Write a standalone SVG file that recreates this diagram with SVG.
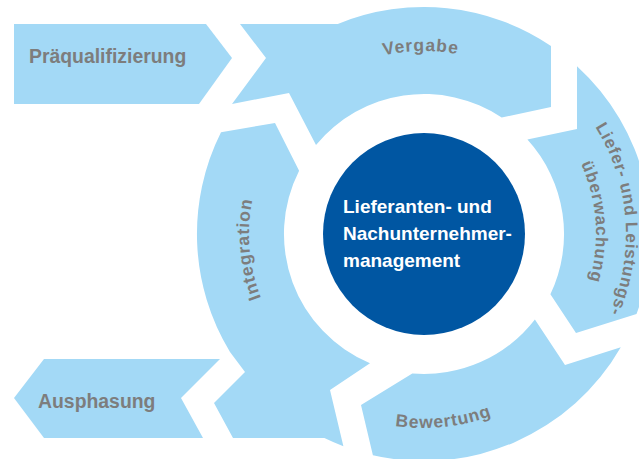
<svg xmlns="http://www.w3.org/2000/svg" width="639" height="459" viewBox="0 0 639 459">
<style>
.seg{fill:#A3D9F6;}
.lbl{font-family:"Liberation Sans",Arial,sans-serif;font-weight:bold;fill:#7D7D7D;}
.box{font-size:19.4px;}
.ring{font-size:17.5px;letter-spacing:0.9px;}
.ctr{font-family:"Liberation Sans",Arial,sans-serif;font-weight:bold;font-size:19px;fill:#FFFFFF;}
</style>
<defs>
<path id="pV" d="M263.95,145.28 A183,183 0 0 1 580.86,139.75"/>
<path id="pI" d="M350.04,392.60 A175,175 0 0 1 323.62,90.64"/>
<path id="pB" d="M267.05,348.03 A194,194 0 0 0 601.22,312.91"/>
<path id="pL1" d="M510.96,51.67 A202,202 0 0 1 538.41,400.47"/>
<path id="pL2" d="M499.13,79.27 A172,172 0 0 1 520.42,376.43"/>
</defs>
<rect width="639" height="459" fill="#FFFFFF"/>
<g id="praequalifizierung">
<polygon class="seg" points="14,24 206,24 232,58 199,104 14,104"/>
<text class="lbl box" x="29" y="63">Präqualifizierung</text>
</g>
<g id="vergabe">
<path class="seg" d="M240,24 L337.8,24 A227,227 0 0 1 551,45.9 L551,107 L501.7,117.5 A140,140 0 0 0 316,144.95 L289,93 L232,104 L266,58 Z"/>
<text class="lbl ring"><textPath href="#pV" startOffset="50%" text-anchor="middle">Vergabe</textPath></text>
</g>
<g id="liefer">
<path class="seg" d="M577,66.3 A227,227 0 0 1 636.5,314 L576,333 L550.4,294.3 A140,140 0 0 0 527.4,139.6 L577,129 Z"/>
<text class="lbl ring" style="font-size:17px;letter-spacing:0.7px"><textPath href="#pL1" startOffset="50%" text-anchor="middle">Liefer- und Leistungs-</textPath></text>
<text class="lbl ring" style="font-size:17px;letter-spacing:0.9px"><textPath href="#pL2" startOffset="50%" text-anchor="middle">überwachung</textPath></text>
</g>
<g id="bewertung">
<path class="seg" d="M534.9,319.4 L565,365 L620.8,347.2 A227,227 0 0 1 372.9,455.2 L361,405 L412.3,373.5 A140,140 0 0 0 534.9,319.4 Z"/>
<text class="lbl ring"><textPath href="#pB" startOffset="50%" text-anchor="middle">Bewertung</textPath></text>
</g>
<g id="integration">
<path class="seg" d="M221,132.3 L275,123 L299.1,170.7 A140,140 0 0 0 370,363.2 L330,390 L343.4,446.2 A227,227 0 0 1 324.4,438 L233,438 L214,403 L245,372 L230,351.9 A227,227 0 0 1 221,132.3 Z"/>
<text class="lbl ring"><textPath href="#pI" startOffset="50%" text-anchor="middle">Integration</textPath></text>
</g>
<g id="ausphasung">
<polygon class="seg" points="44,359 220,359 181,398 203,438 44,438 14,398"/>
<text class="lbl box" x="38" y="408">Ausphasung</text>
</g>
<g id="center">
<circle cx="424" cy="234" r="101" fill="#0056A2"/>
<text class="ctr" x="343" y="213">Lieferanten- und</text>
<text class="ctr" x="343" y="240">Nachunternehmer-</text>
<text class="ctr" x="343" y="267">management</text>
</g>
<g id="connectors"></g>
</svg>
